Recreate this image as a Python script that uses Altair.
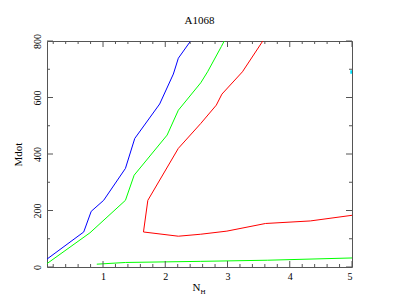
import altair as alt
import pandas as pd

# ---- data ----
blue_x = [0.10, 0.69, 0.81, 1.01, 1.36, 1.51, 1.91, 2.13, 2.21, 2.41]
blue_y = [28, 124, 197, 236, 349, 455, 577, 683, 739, 801]

green1_x = [0.10, 0.79, 1.36, 1.50, 2.03, 2.21, 2.57, 2.68, 2.90, 2.95]
green1_y = [12, 121, 236, 325, 467, 555, 652, 691, 780, 801]

red_x = [3.57, 3.24, 2.91, 2.82, 2.57, 2.21, 1.72, 1.65, 2.21, 2.57, 2.99, 3.61, 4.33, 5.00]
red_y = [801, 691, 612, 573, 508, 420, 236, 124, 109, 116, 127, 154, 163, 183]

green2_x = [0.90, 1.36, 2.57, 3.64, 5.00]
green2_y = [10, 16, 20, 24, 32]

cyan_x = [5.0]
cyan_y = [690]

x_major = [1, 2, 3, 4, 5]
x_minor = [0.2, 0.4, 0.6, 0.8, 1.2, 1.4, 1.6, 1.8, 2.2, 2.4, 2.6, 2.8,
           3.2, 3.4, 3.6, 3.8, 4.2, 4.4, 4.6, 4.8]
y_major = [0, 200, 400, 600, 800]
y_minor = [100, 300, 500, 700]

series_names = ["blue", "green1", "red", "green2"]
series_colors = ["#0000ff", "#00ff00", "#ff0000", "#00ff00"]

# ---- build tables ----
rows = []
for name, xs, ys in [("blue", blue_x, blue_y), ("green1", green1_x, green1_y),
                     ("red", red_x, red_y), ("green2", green2_x, green2_y)]:
    for i, (a, b) in enumerate(zip(xs, ys)):
        rows.append({"series": name, "order": i, "x": a, "y": b})
lines_df = pd.DataFrame(rows)

W, H = 305, 226
FONT = "Liberation Serif"
FRAME = "#555555"

xscale = alt.Scale(domain=[0.1, 5], nice=False, zero=False)
yscale = alt.Scale(domain=[0, 800], nice=False, zero=False)

xaxis = alt.Axis(values=x_major, ticks=False, tickSize=0, domain=False, grid=False,
                 labelFont=FONT, labelFontSize=10, labelColor="black",
                 labelPadding=4, title="N", titleFont=FONT, titleFontSize=11,
                 titleFontWeight="normal", titleColor="black",
                 titleX=149, titleY=23, titleBaseline="alphabetic",
                 titleAlign="center")
yaxis = alt.Axis(values=y_major, ticks=False, tickSize=0, domain=False, grid=False,
                 labelFont=FONT, labelFontSize=10, labelColor="black",
                 labelAngle=270, labelAlign="center", labelBaseline="alphabetic",
                 labelPadding=7, title="Mdot", titleFont=FONT, titleFontSize=11,
                 titleFontWeight="normal", titleColor="black",
                 titleAngle=270, titleX=-26, titleY=113,
                 titleBaseline="alphabetic", titleAlign="center")

lines = alt.Chart(lines_df).mark_line(strokeWidth=1, clip=True).encode(
    x=alt.X("x:Q", scale=xscale, axis=xaxis),
    y=alt.Y("y:Q", scale=yscale, axis=yaxis),
    color=alt.Color("series:N", scale=alt.Scale(domain=series_names, range=series_colors),
                    legend=None),
    detail="series:N",
    order="order:Q",
)

cyan = alt.Chart(pd.DataFrame({"x": cyan_x, "y": cyan_y})).mark_square(
    size=12, color="#00e5ff", opacity=1, clip=True).encode(
    x=alt.X("x:Q", scale=xscale, axis=xaxis),
    y=alt.Y("y:Q", scale=yscale, axis=yaxis),
)

def xticks(vals, length):
    df = pd.DataFrame({"v": vals})
    base = alt.Chart(df).mark_rule(color=FRAME, strokeWidth=1)
    bottom = base.encode(x=alt.X("v:Q", scale=xscale, axis=xaxis),
                         y=alt.value(H), y2=alt.value(H - length))
    top = base.encode(x=alt.X("v:Q", scale=xscale, axis=xaxis),
                      y=alt.value(0), y2=alt.value(length))
    return [bottom, top]

def yticks(vals, length):
    df = pd.DataFrame({"v": vals})
    base = alt.Chart(df).mark_rule(color=FRAME, strokeWidth=1)
    left = base.encode(y=alt.Y("v:Q", scale=yscale, axis=yaxis),
                       x=alt.value(0), x2=alt.value(length))
    right = base.encode(y=alt.Y("v:Q", scale=yscale, axis=yaxis),
                        x=alt.value(W), x2=alt.value(W - length))
    return [left, right]

sub_h = alt.Chart(pd.DataFrame({"t": ["H"]})).mark_text(
    font=FONT, fontSize=7, align="left", baseline="alphabetic", color="black").encode(
    x=alt.value(153.5), y=alt.value(253), text="t:N")

layers = [lines, cyan] + xticks(x_major, 6) + xticks(x_minor, 3) + \
    yticks(y_major, 6) + yticks(y_minor, 3) + [sub_h]

chart = alt.layer(*layers).properties(
    width=W, height=H,
    title=alt.TitleParams("A1068", font=FONT, fontSize=11, fontWeight="normal",
                          color="black", anchor="middle", offset=8),
    autosize=alt.AutoSizeParams(type="none"),
    padding={"left": 39, "top": 33, "right": 39, "bottom": 33},
).configure_view(stroke=FRAME, strokeWidth=1)

chart.save("out.html", embed_options={"renderer": "svg", "actions": False})
